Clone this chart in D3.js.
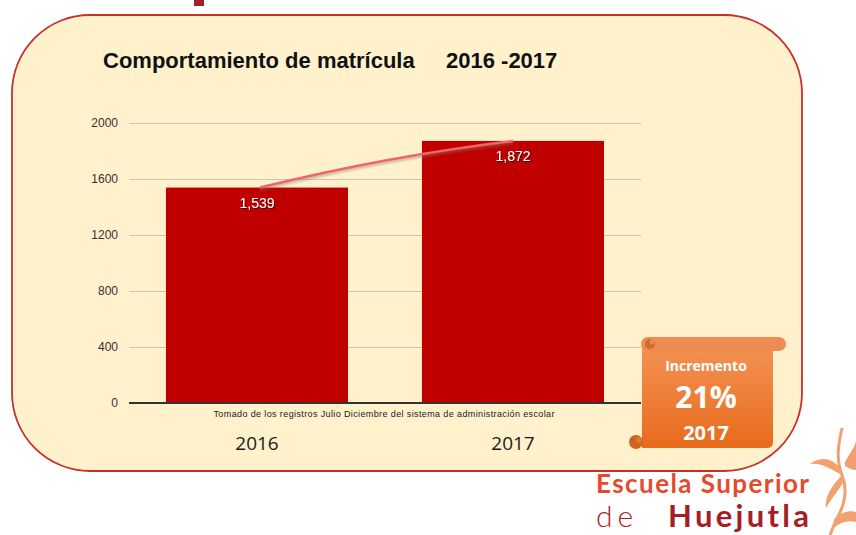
<html>
<meta charset="utf-8" />
<head>
<title>Comportamiento de matrícula 2016 -2017</title>
<style>
body { margin: 0; background: #fff; }
svg { display: block; }
</style>
<script src="https://cdn.jsdelivr.net/npm/d3@7"></script>
</head>
<body>
<svg class="chart" width="856" height="535" font-family="Liberation Sans, Arial, sans-serif"></svg>

<script>
var chartWidth = 856;
var chartHeight = 535;

/********
 * Data *
 ********/
var years = ["2016", "2017"];
var enrolment = [1539, 1872];
var yTicks = [0, 400, 800, 1200, 1600, 2000];
var titleParts = ["Comportamiento de matrícula", "2016 -2017"];
var sourceNote = "Tomado de los registros Julio Diciembre del sistema de administración escolar";
var badgeLines = ["Incremento", "21%", "2017"];

var svg = d3.select(".chart");
var defs = svg.append("defs");

var grad = defs.append("linearGradient").attr("id", "scrollGrad")
    .attr("x1", 0).attr("y1", 0).attr("x2", 0).attr("y2", 1);
grad.append("stop").attr("offset", "0%").attr("stop-color", "#f39254");
grad.append("stop").attr("offset", "100%").attr("stop-color", "#e86b1c");

var shadow = defs.append("filter").attr("id", "txtShadow")
    .attr("x", "-20%").attr("y", "-20%").attr("width", "140%").attr("height", "160%");
shadow.append("feDropShadow").attr("dx", 1).attr("dy", 1).attr("stdDeviation", 0.6)
    .attr("flood-color", "#000").attr("flood-opacity", 0.7);

var lineShadow = defs.append("filter").attr("id", "lineShadow")
    .attr("x", "-10%").attr("y", "-50%").attr("width", "120%").attr("height", "200%");
lineShadow.append("feDropShadow").attr("dx", 0).attr("dy", 2).attr("stdDeviation", 1)
    .attr("flood-color", "#777").attr("flood-opacity", 0.5);

// bit of the slide heading cut off at the top
svg.append("rect").attr("x", 194).attr("y", 0).attr("width", 10).attr("height", 6)
    .attr("fill", "#a3202a");

// panel
svg.append("rect")
    .attr("x", 12).attr("y", 15).attr("width", 790).attr("height", 456)
    .attr("rx", 78).attr("ry", 78)
    .attr("fill", "#fff1cc")
    .attr("stroke", "#c9302c").attr("stroke-width", 1.8);

// title
svg.append("text").attr("x", 103).attr("y", 68)
    .attr("font-size", 22).attr("font-weight", "bold").attr("fill", "#111")
    .text(titleParts[0]);
svg.append("text").attr("x", 446).attr("y", 68)
    .attr("font-size", 22).attr("font-weight", "bold").attr("fill", "#111")
    .text(titleParts[1]);

/**********
 * Scales *
 **********/
var x = d3.scaleBand()
    .domain(years)
    .range([129, 641])
    .paddingInner(0.289)
    .paddingOuter(0.1445);

var y = d3.scaleLinear()
    .domain([0, 2000])
    .range([403, 123]);

/********
 * Axes *
 ********/
var yAxis = d3.axisLeft(y).tickValues(yTicks).tickSize(-512).tickPadding(11)
    .tickFormat(d3.format("d"));

var yAxisGroup = svg.append("g")
    .attr("transform", "translate(129,0)")
    .call(yAxis);
yAxisGroup.select(".domain").remove();
yAxisGroup.selectAll("line").attr("stroke", "#cbc6b8").attr("stroke-width", 1);
yAxisGroup.selectAll("text")
    .attr("font-size", 12).attr("fill", "#333")
    .attr("font-family", "Liberation Sans, Arial, sans-serif");

// bars
svg.selectAll("rect.bar")
    .data(enrolment)
    .enter().append("rect")
    .attr("class", "bar")
    .attr("x", function(d, i){ return x(years[i]); })
    .attr("y", function(d){ return y(d); })
    .attr("width", x.bandwidth())
    .attr("height", function(d){ return y(0) - y(d); })
    .attr("fill", "#c00000");

// zero line
svg.append("line")
    .attr("x1", 129).attr("x2", 641)
    .attr("y1", y(0)).attr("y2", y(0))
    .attr("stroke", "#333").attr("stroke-width", 2);

// growth line between bar tops
var p0 = [x(years[0]) + x.bandwidth() / 2 + 3, y(enrolment[0])];
var p1 = [x(years[1]) + x.bandwidth() / 2, y(enrolment[1])];
var ctrl = [(p0[0] + p1[0]) / 2, (p0[1] + p1[1]) / 2 - 8];
svg.append("path")
    .attr("d", "M" + p0 + "Q" + ctrl + " " + p1)
    .attr("fill", "none")
    .attr("stroke", "#f26464").attr("stroke-width", 2.5)
    .attr("filter", "url(#lineShadow)");

// value labels
svg.selectAll("text.value")
    .data(enrolment)
    .enter().append("text")
    .attr("class", "value")
    .attr("x", function(d, i){ return x(years[i]) + x.bandwidth() / 2; })
    .attr("y", function(d){ return y(d) + 20; })
    .attr("text-anchor", "middle")
    .attr("font-size", 14).attr("fill", "#fff")
    .attr("filter", "url(#txtShadow)")
    .text(d3.format(","));

// source note
svg.append("text")
    .attr("x", 384).attr("y", 417)
    .attr("text-anchor", "middle")
    .attr("font-size", 9).attr("fill", "#222")
    .attr("textLength", 341)
    .text(sourceNote);

// category labels
svg.selectAll("text.cat")
    .data(years)
    .enter().append("text")
    .attr("class", "cat")
    .attr("x", function(d){ return x(d) + x.bandwidth() / 2; })
    .attr("y", 450)
    .attr("text-anchor", "middle")
    .attr("font-family", "Open Sans, sans-serif")
    .attr("font-size", 19).attr("fill", "#1a1a1a")
    .text(function(d){ return d; });

/*********
 * Badge *
 *********/
var badge = svg.append("g");
badge.append("path")
    .attr("d", "M642,345 H773 V442 Q773,448 767,448 H642 Z")
    .attr("fill", "url(#scrollGrad)");
badge.append("rect")
    .attr("x", 641).attr("y", 337).attr("width", 145).attr("height", 14)
    .attr("rx", 7).attr("fill", "#ef8a52");
badge.append("circle").attr("cx", 650).attr("cy", 344).attr("r", 5).attr("fill", "#d26a2b");
badge.append("circle").attr("cx", 652).attr("cy", 342).attr("r", 2.5).attr("fill", "#ef8a52");
badge.append("circle").attr("cx", 636).attr("cy", 442).attr("r", 7).attr("fill", "#cf631f");
badge.append("circle").attr("cx", 639).attr("cy", 440).attr("r", 3).attr("fill", "#e3782e");

var badgeSizes = [14, 30, 20];
var badgeY = [371, 408, 440];
badge.selectAll("text")
    .data(badgeLines)
    .enter().append("text")
    .attr("x", 706)
    .attr("y", function(d, i){ return badgeY[i]; })
    .attr("text-anchor", "middle")
    .attr("font-family", "Open Sans, sans-serif")
    .attr("font-weight", "bold")
    .attr("font-size", function(d, i){ return badgeSizes[i]; })
    .attr("fill", "#fff")
    .text(function(d){ return d; });

/********
 * Logo *
 ********/
var logo = svg.append("g");
logo.append("text")
    .attr("x", 596).attr("y", 493)
    .attr("font-family", "Lato, sans-serif").attr("font-weight", "bold")
    .attr("font-size", 26).attr("fill", "#e54a2c")
    .attr("textLength", 213)
    .text("Escuela Superior");
logo.append("text")
    .attr("x", 596).attr("y", 527)
    .attr("font-family", "Lato, sans-serif").attr("font-weight", 300)
    .attr("font-size", 30).attr("fill", "#a51e24")
    .attr("letter-spacing", 5)
    .text("de");
logo.append("text")
    .attr("x", 668).attr("y", 527)
    .attr("font-family", "Lato, sans-serif").attr("font-weight", "bold")
    .attr("font-size", 31).attr("fill", "#a51e24")
    .attr("textLength", 141)
    .text("Huejutla");

// plant emblem
var leaf = "#f2a070";
logo.append("path")
    .attr("d", "M842,428 C838,445 836,460 842,475 C848,490 845,505 836,520 L830,535")
    .attr("fill", "none").attr("stroke", leaf).attr("stroke-width", 3);
logo.append("path")
    .attr("d", "M842,470 C830,455 818,458 810,464 C822,462 832,470 842,475 Z")
    .attr("fill", leaf);
logo.append("path")
    .attr("d", "M842,475 C832,485 824,498 826,508 C832,498 840,488 845,480 Z")
    .attr("fill", leaf);
logo.append("path")
    .attr("d", "M845,462 C852,450 856,445 856,440 L856,470 C852,470 848,468 845,466 Z")
    .attr("fill", leaf);
logo.append("path")
    .attr("d", "M834,520 C840,512 850,510 856,512 L856,522 C848,520 840,522 834,528 Z")
    .attr("fill", leaf);
</script>
</body>
</html>
